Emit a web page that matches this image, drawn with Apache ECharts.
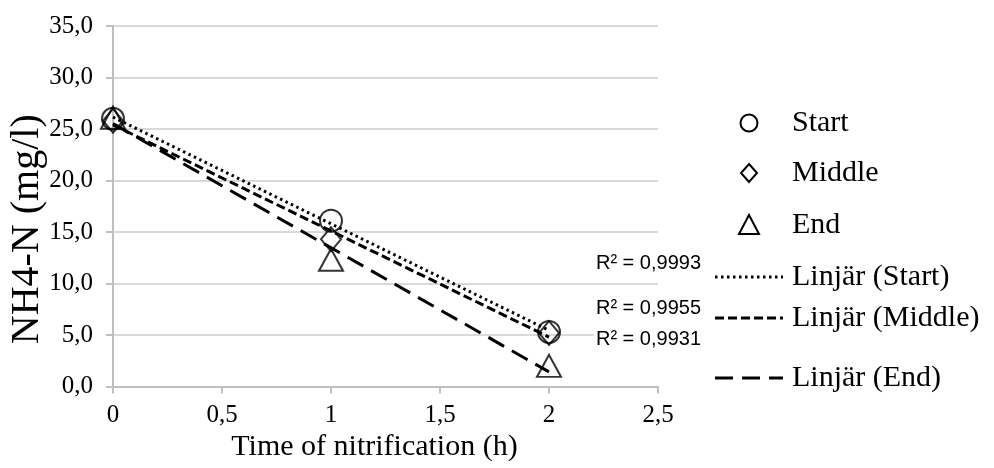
<!DOCTYPE html>
<html>
<head>
<meta charset="utf-8">
<script src="https://cdn.jsdelivr.net/npm/echarts@6/dist/echarts.min.js"></script>
<style>
  html, body { margin: 0; padding: 0; background: #ffffff; }
  #chart { width: 994px; height: 468px; }
</style>
</head>
<body>
<div id="chart"></div>
<script>
// Sampling times (h) and measured NH4-N concentrations (mg/l)
const timeH = [0, 1, 2];
const startVals = [26.0, 16.1, 5.3];
const middleVals = [25.8, 14.3, 5.2];
const endVals = [26.1, 12.3, 2.0];
const seriesNames = ['Start', 'Middle', 'End'];
const trendNames = ['Linjär (Start)', 'Linjär (Middle)', 'Linjär (End)'];
const r2Labels = ['R² = 0,9993', 'R² = 0,9955', 'R² = 0,9931'];

const SERIF = '"Liberation Serif", "Times New Roman", serif';
const SANS = '"Liberation Sans", Arial, sans-serif';
const GRAY = '#bfbfbf';

// Least-squares straight line through the measured points
function linFit(xs, ys) {
  const n = xs.length;
  const mx = xs.reduce((a, b) => a + b, 0) / n;
  const my = ys.reduce((a, b) => a + b, 0) / n;
  let sxy = 0, sxx = 0;
  for (let i = 0; i < n; i++) { sxy += (xs[i] - mx) * (ys[i] - my); sxx += (xs[i] - mx) ** 2; }
  const b = sxy / sxx;
  const a = my - b * mx;
  return [[xs[0], a + b * xs[0]], [xs[n - 1], a + b * xs[n - 1]]];
}

const pts = ys => timeH.map((t, i) => [t, ys[i]]);
const comma = v => String(v).replace('.', ',');

const hollow = { color: 'rgba(0,0,0,0)', borderColor: '#000', borderWidth: 2 };
const dashes = [[2.5, 3.5], [9, 4], [18, 9]];
const valueSets = [startVals, middleVals, endVals];

const series = [];
valueSets.forEach((vals, i) => {
  series.push({
    name: trendNames[i], type: 'line', data: linFit(timeH, vals),
    showSymbol: false, symbol: 'none', silent: true, z: 2,
    lineStyle: { color: '#000', width: 3, type: dashes[i], cap: 'butt' }
  });
});
const symbols = ['circle', 'diamond', 'triangle'];
const sizes = [[22, 22], [20, 24], [24, 22]];
valueSets.forEach((vals, i) => {
  series.push({
    name: seriesNames[i], type: 'scatter', data: pts(vals), z: 3,
    symbol: symbols[i], symbolSize: sizes[i], itemStyle: hollow
  });
});

// Legend drawn at the right of the plot
const legendX = 715, legendW = 68, textX = 792;
const rowY = [123, 173, 225, 277, 318, 378];
const legendEls = [];
const iconCx = legendX + legendW / 2;
legendEls.push({ type: 'circle', shape: { cx: iconCx, cy: rowY[0], r: 8.5 },
  style: { fill: 'none', stroke: '#000', lineWidth: 2 } });
legendEls.push({ type: 'polygon', shape: { points: [[iconCx, rowY[1] - 9], [iconCx + 8, rowY[1]], [iconCx, rowY[1] + 9], [iconCx - 8, rowY[1]]] },
  style: { fill: 'none', stroke: '#000', lineWidth: 2 } });
legendEls.push({ type: 'polygon', shape: { points: [[iconCx, rowY[2] - 10], [iconCx + 10, rowY[2] + 9], [iconCx - 10, rowY[2] + 9]] },
  style: { fill: 'none', stroke: '#000', lineWidth: 2 } });
for (let i = 0; i < 3; i++) {
  legendEls.push({ type: 'line', shape: { x1: legendX, y1: rowY[3 + i], x2: legendX + legendW, y2: rowY[3 + i] },
    style: { stroke: '#000', lineWidth: 3, lineDash: dashes[i] } });
}
const legendTexts = seriesNames.concat(trendNames);
legendTexts.forEach((t, i) => {
  legendEls.push({ type: 'text', x: textX, y: rowY[i],
    style: { text: t, font: '30px ' + SERIF, fill: '#000', textVerticalAlign: 'middle', textAlign: 'left' } });
});
// Coefficients of determination for the three fits
const r2Y = [263, 308, 339];
r2Labels.forEach((t, i) => {
  legendEls.push({ type: 'text', x: 703, y: r2Y[i], z: 10,
    style: { text: t, font: '20px ' + SANS, fill: '#000', textVerticalAlign: 'middle', textAlign: 'right',
      backgroundColor: '#ffffff', padding: [1, 2] } });
});

const chart = echarts.init(document.getElementById('chart'), null, { renderer: 'canvas' });
chart.setOption({
  animation: false,
  backgroundColor: '#ffffff',
  grid: { left: 113, right: 336, top: 26, bottom: 81.5, containLabel: false, outerBoundsMode: 'none' },
  xAxis: {
    type: 'value', min: 0, max: 2.5, interval: 0.5,
    name: 'Time of nitrification (h)', nameLocation: 'middle', nameGap: 46, nameMoveOverlap: false,
    nameTextStyle: { fontFamily: SERIF, fontSize: 30, color: '#000', padding: [0, 22, 0, 0] },
    axisLine: { show: true, lineStyle: { color: GRAY, width: 2 } },
    axisTick: { show: true, length: 7, lineStyle: { color: GRAY, width: 2 } },
    axisLabel: { fontFamily: SERIF, fontSize: 25, color: '#000', margin: 16, formatter: comma },
    splitLine: { show: false }
  },
  yAxis: {
    type: 'value', min: 0, max: 35, interval: 5,
    name: 'NH4-N (mg/l)', nameLocation: 'middle', nameGap: 66, nameRotate: 90, nameMoveOverlap: false,
    nameTextStyle: { fontFamily: SERIF, fontSize: 40, color: '#000', padding: [0, 46, 0, 0] },
    axisLine: { show: true, lineStyle: { color: GRAY, width: 2 } },
    axisTick: { show: true, length: 7, lineStyle: { color: GRAY, width: 2 } },
    axisLabel: { fontFamily: SERIF, fontSize: 25, color: '#000', margin: 20, formatter: v => v.toFixed(1).replace('.', ',') },
    splitLine: { show: true, lineStyle: { color: '#d9d9d9', width: 2 } }
  },
  legend: { show: false },
  series: series,
  graphic: legendEls
});
</script>
</body>
</html>
